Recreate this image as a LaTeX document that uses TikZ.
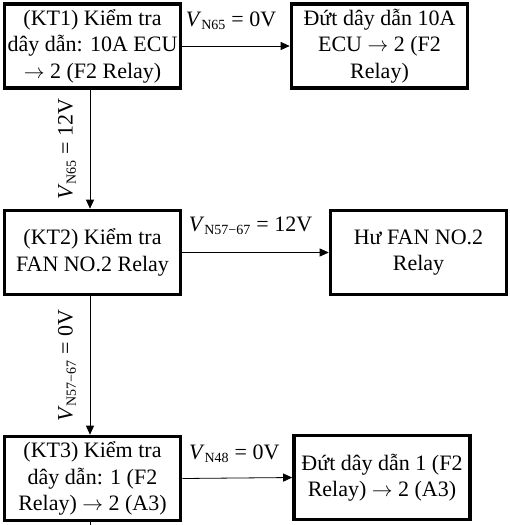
\documentclass[tikz,border=0pt]{standalone}
\usepackage{fontspec}
\setmainfont{Liberation Serif}
\usetikzlibrary{arrows.meta}
\newcommand{\volt}[2]{\textit{V}\textsubscript{\fontsize{14}{14}\selectfont #1}\ =\ #2}
\begin{document}
\begin{tikzpicture}[x=1pt,y=-1pt,
  box/.style={draw,line width=3.6pt,minimum width=176pt,minimum height=84pt,
    align=center,inner sep=0pt,font=\fontsize{22}{26.5}\selectfont},
  flow/.style={line width=0.8pt,-{Triangle[length=9pt,width=8pt]}},
  cond/.style={font=\fontsize{22}{26}\selectfont,inner sep=0pt}]
\useasboundingbox (0,0) rectangle (510,525);
% left column: checks
\node[box] (kt1) at (92.5,46) {(KT1) Kiểm tra\\dây dẫn: 10A ECU\\$\rightarrow$ 2 (F2 Relay)};
\node[box] (kt2) at (92.5,252.5) {(KT2) Kiểm tra\\FAN NO.2 Relay};
\node[box] (kt3) at (92.5,478.5) {(KT3) Kiểm tra\\dây dẫn: 1 (F2\\Relay) $\rightarrow$ 2 (A3)};
% right column: faults
\node[box] (f1) at (379.5,46) {Đứt dây dẫn 10A\\ECU $\rightarrow$ 2 (F2\\Relay)};
\node[box] (f2) at (418.5,252.5) {Hư FAN NO.2\\Relay};
\node[box] (f3) at (382,477.5) {Đứt dây dẫn 1 (F2\\Relay) $\rightarrow$ 2 (A3)};
% horizontal branches
\draw[flow] (kt1.east) -- node[cond,midway,yshift=25pt,xshift=-5pt] {\volt{N65}{0V}} (f1.west);
\draw[flow] (kt2.east) -- node[cond,midway,yshift=27pt,xshift=-5pt] {\volt{N57−67}{12V}} (f2.west);
\draw[flow] (kt3.east) -- node[cond,midway,yshift=24pt,xshift=-3pt] {\volt{N48}{0V}} (f3.west);
% vertical branches
\coordinate (a1) at (90,90);
\coordinate (a2) at (90,296);
\draw[flow] (kt1.south -| a1) -- node[cond,midway,rotate=90,yshift=23pt] {\volt{N65}{12V}} (kt2.north -| a1);
\draw[flow] (kt2.south -| a2) -- node[cond,midway,rotate=90,yshift=23pt] {\volt{N57−67}{0V}} (kt3.north -| a2);
% stub leaving the last check
\coordinate (stub) at (90,525);
\draw[line width=0.8pt] (kt3.south -| stub) -- (stub);
\end{tikzpicture}
\end{document}
